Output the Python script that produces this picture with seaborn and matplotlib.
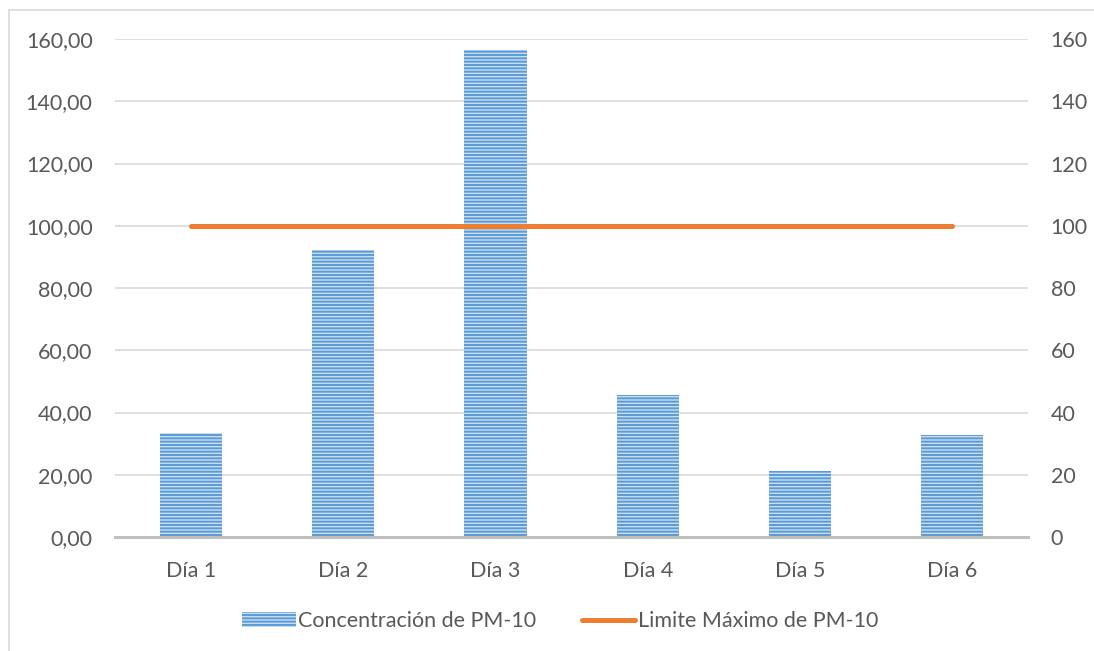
import numpy as np
import pandas as pd
import matplotlib
matplotlib.use("Agg")
import matplotlib.pyplot as plt
import matplotlib.patches as mpatches
from matplotlib.lines import Line2D
from matplotlib.ticker import FuncFormatter
import seaborn as sns

# Data
dias = ["Día 1", "Día 2", "Día 3", "Día 4", "Día 5", "Día 6"]
concentracion = [33.4, 92.2, 156.5, 45.6, 21.2, 32.8]
limite = [100, 100, 100, 100, 100, 100]
y_ticks = [0, 20, 40, 60, 80, 100, 120, 140, 160]

sns.set_style("white")
plt.rcParams['font.family'] = ['Lato', 'DejaVu Sans']
plt.rcParams['hatch.linewidth'] = 1.4

text_color = '#595959'
grid_color = '#D9D9D9'
bar_face = '#C9DEF2'
stripe = '#5B9BD5'
fs = 15.5

df = pd.DataFrame({'Dia': dias, 'Concentracion': concentracion, 'Limite': limite})

fig = plt.figure(figsize=(10.94, 6.51), dpi=100)
ax = fig.add_axes([0.105, 0.175, 0.835, 0.765])

sns.barplot(data=df, x='Dia', y='Concentracion', ax=ax, width=0.41,
            color=bar_face, saturation=1)
for bar in ax.patches:
    bar.set_hatch('-----')
    bar.set_edgecolor(stripe)
    bar.set_linewidth(0)

ax.set_ylim(0, 160)
ax.set_xlim(-0.5, 5.5)
ax.set_yticks(y_ticks)
ax.yaxis.set_major_formatter(FuncFormatter(lambda v, p: f'{v:.2f}'.replace('.', ',')))
ax.grid(axis='y', color=grid_color, linewidth=1.2)
ax.set_axisbelow(True)
ax.set_xlabel('')
ax.set_ylabel('')
for s in ['top', 'right', 'left']:
    ax.spines[s].set_visible(False)
ax.spines['bottom'].set_color('#BFBFBF')
ax.spines['bottom'].set_linewidth(2.2)
ax.tick_params(axis='both', length=0, labelsize=fs, colors=text_color)
ax.tick_params(axis='x', pad=17)
ax.tick_params(axis='y', pad=16)

ax2 = ax.twinx()
sns.lineplot(data=df, x='Dia', y='Limite', ax=ax2, color='#ED7D31',
             linewidth=3.6, solid_capstyle='round')
ax2.set_ylim(0, 160)
ax2.set_yticks(y_ticks)
ax2.set_ylabel('')
for s in ax2.spines.values():
    s.set_visible(False)
ax2.tick_params(axis='y', length=0, labelsize=fs, colors=text_color, pad=16)

# legend
handles = [
    mpatches.Patch(facecolor=bar_face, edgecolor=stripe, linewidth=0, hatch='-----',
                   label='Concentración de PM-10'),
    Line2D([0], [0], color='#ED7D31', linewidth=3.6, solid_capstyle='round',
           label='Limite Máximo de PM-10'),
]
fig.legend(handles=handles, loc='center', bbox_to_anchor=(0.512, 0.046), ncol=2,
           frameon=False, fontsize=fs, labelcolor=text_color,
           handlelength=2.5, handletextpad=0.12, columnspacing=2.1)

# outer chart border
fig.add_artist(mpatches.Rectangle((0.008, -0.02), 1.05, 1.005,
                                  transform=fig.transFigure, fill=False,
                                  edgecolor='#D9D9D9', linewidth=1.2))

fig.savefig('out.png', dpi=100)
